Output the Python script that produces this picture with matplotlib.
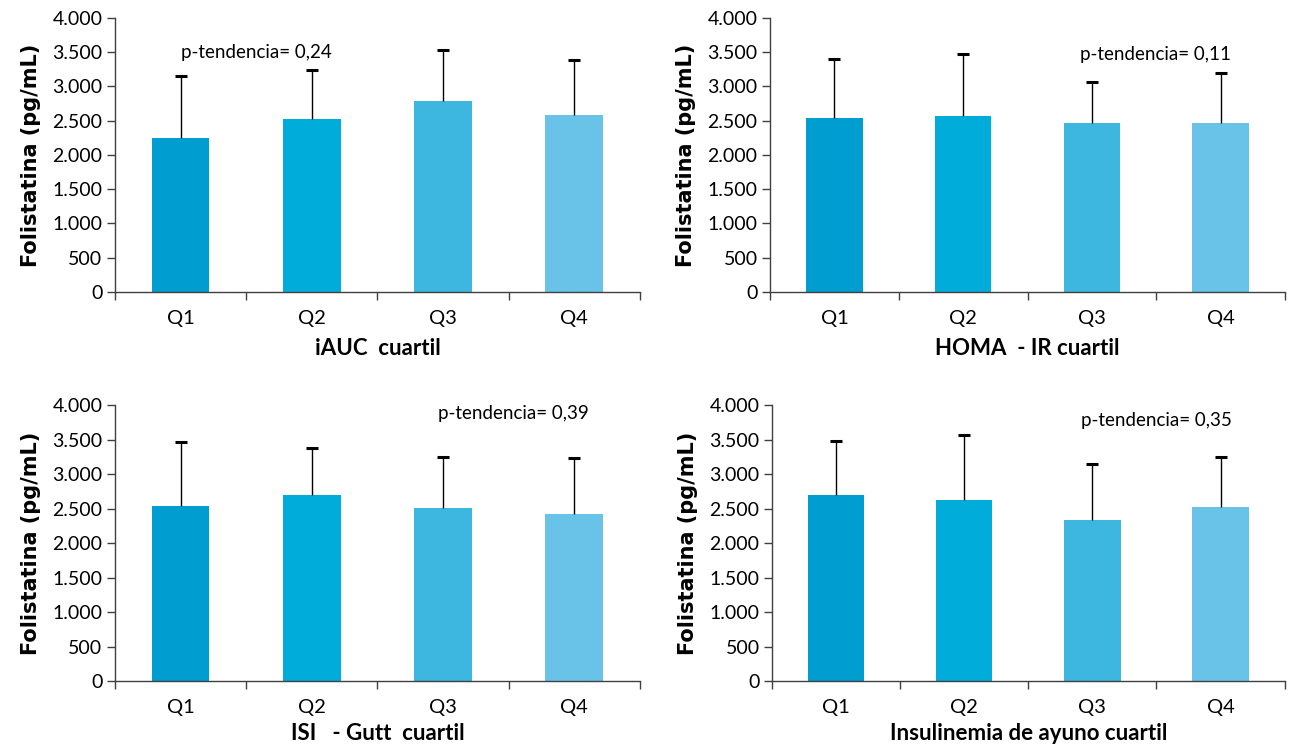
import matplotlib
matplotlib.use("Agg")
import matplotlib.pyplot as plt
from matplotlib.ticker import FuncFormatter

plt.rcParams["font.family"] = ["Lato", "DejaVu Sans"]

categories = ["Q1", "Q2", "Q3", "Q4"]
colors = ["#009dd1", "#00acda", "#3db7e0", "#69c3e8"]

# mean and upper SD per quartile
iauc_mean = [2255, 2530, 2790, 2590]
iauc_sd = [905, 715, 740, 795]

homa_mean = [2545, 2575, 2470, 2470]
homa_sd = [855, 905, 600, 730]

isi_mean = [2530, 2690, 2505, 2415]
isi_sd = [930, 690, 745, 815]

insul_mean = [2690, 2620, 2330, 2520]
insul_sd = [790, 950, 820, 725]

xlabels = ["iAUC  cuartil", "HOMA  - IR cuartil", "ISI   - Gutt  cuartil",
           "Insulinemia de ayuno cuartil"]
p_texts = ["p-tendencia= 0,24", "p-tendencia= 0,11",
           "p-tendencia= 0,39", "p-tendencia= 0,35"]
p_pos = [(1.0, 3500), (2.91, 3460), (2.96, 3870), (2.91, 3770)]

panels = [
    ([0.0892, 0.6086, 0.4073, 0.3673], iauc_mean, iauc_sd, -830),
    ([0.5974, 0.6086, 0.3995, 0.3673], homa_mean, homa_sd, -830),
    ([0.0892, 0.0871, 0.4073, 0.3700], isi_mean, isi_sd, -760),
    ([0.5990, 0.0871, 0.3976, 0.3700], insul_mean, insul_sd, -760),
]

fig = plt.figure(figsize=(12.89, 7.46), dpi=100)
axis_col = "#404040"

for i, (rect, mean, sd, xl_y) in enumerate(panels):
    ax = fig.add_axes(rect)
    x = list(range(1, len(categories) + 1))
    ax.bar(x, mean, width=0.44, color=colors, zorder=2)
    tops = [m + s for m, s in zip(mean, sd)]
    ax.vlines(x, mean, tops, color="black", linewidth=1, zorder=3)
    ax.plot(x, tops, linestyle="none", marker="_", markersize=9,
            markeredgewidth=2.2, color="black", zorder=3)

    ax.set_xlim(0.5, 4.5)
    ax.set_ylim(0, 4000)
    ax.set_yticks(range(0, 4001, 500))
    ax.yaxis.set_major_formatter(
        FuncFormatter(lambda v, p: f"{int(v):,}".replace(",", ".")))
    ax.set_xticks([0.5, 1.5, 2.5, 3.5, 4.5])
    ax.set_xticklabels([])
    for xi, c in zip(x, categories):
        ax.text(xi, -380, c, ha="center", va="center", fontsize=14.5)

    for s in ["top", "right"]:
        ax.spines[s].set_visible(False)
    for s in ["left", "bottom"]:
        ax.spines[s].set_color(axis_col)
        ax.spines[s].set_linewidth(1)
    ax.tick_params(axis="both", direction="out", length=6, width=1,
                   color=axis_col, labelsize=14, pad=3)

    ax.set_ylabel("Folistatina (pg/mL)", fontsize=15, fontweight="bold",
                  family="DejaVu Sans", labelpad=8)
    ax.text(2.5, xl_y, xlabels[i], ha="center", va="center", fontsize=16,
            fontweight="bold")
    px, py = p_pos[i]
    ax.text(px, py, p_texts[i], ha="left", va="center", fontsize=13.5)

fig.savefig("out.png", dpi=100)
